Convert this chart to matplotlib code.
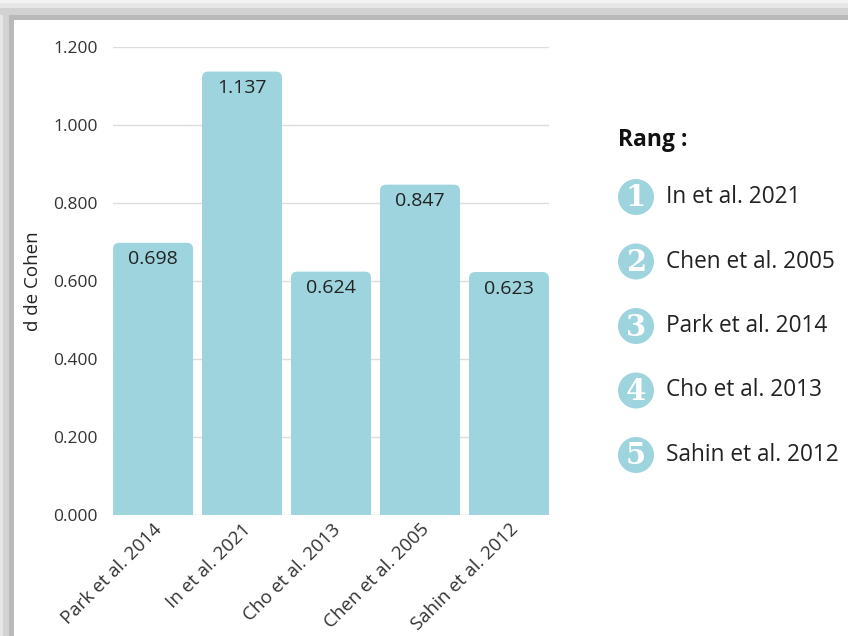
import matplotlib
matplotlib.use("Agg")
import matplotlib.pyplot as plt
from matplotlib.patches import FancyBboxPatch, Rectangle, Ellipse

# data
studies = ["Park et al. 2014", "In et al. 2021", "Cho et al. 2013",
           "Chen et al. 2005", "Sahin et al. 2012"]
cohen_d = [0.698, 1.137, 0.624, 0.847, 0.623]
rank_order = ["In et al. 2021", "Chen et al. 2005", "Park et al. 2014",
              "Cho et al. 2013", "Sahin et al. 2012"]
yticks = [0.0, 0.2, 0.4, 0.6, 0.8, 1.0, 1.2]

BAR = "#9dd4de"
TXT = "#222222"

plt.rcParams["font.family"] = ["Open Sans", "DejaVu Sans"]

W, H = 848, 636
fig = plt.figure(figsize=(W / 100, H / 100), dpi=100)
fig.patch.set_facecolor("white")

# window shadow along top and left edges
for (y0, y1, c) in [(0, 3, "#f2f2f2"), (3, 8, "#e6e6e6"), (8, 15, "#d2d2d2"), (15, 20, "#b9b9b9")]:
    fig.add_artist(Rectangle((0, 1 - y1 / H), 1, (y1 - y0) / H,
                             transform=fig.transFigure, color=c, lw=0, zorder=0))
for (x0, x1, c) in [(0, 3, "#e6e6e6"), (3, 9, "#d2d2d2"), (9, 14, "#b9b9b9")]:
    fig.add_artist(Rectangle((x0 / W, 0), (x1 - x0) / W, 1 - 15 / H,
                             transform=fig.transFigure, color=c, lw=0, zorder=0))

ax = fig.add_axes([113 / W, 1 - 515 / H, 436 / W, 468 / H])
ax.set_facecolor("none")
x = list(range(len(studies)))
width = 80 / 89
bars = ax.bar(x, cohen_d, width=width, color=BAR)

# swap plain bars for rounded-top ones
px_x = 89.0
px_y = 390.0
for b in bars:
    b.set_visible(False)
    bx, bw, bh = b.get_x(), b.get_width(), b.get_height()
    p = FancyBboxPatch((bx, -0.03), bw, bh + 0.03,
                       boxstyle="round,pad=0,rounding_size=0.07",
                       mutation_aspect=px_x / px_y,
                       fc=BAR, ec="none", zorder=2)
    ax.add_patch(p)

for xi, v in zip(x, cohen_d):
    ax.annotate(f"{v:.3f}", (xi, v), xytext=(0, -12), textcoords="offset points",
                ha="center", va="center", fontsize=14, color=TXT, zorder=3)

ax.set_xlim(-0.45, len(studies) - 0.55)
ax.set_ylim(0, 1.2)
ax.set_yticks(yticks)
ax.set_yticklabels([f"{t:.3f}" for t in yticks])
ax.yaxis.grid(True, color="#dddddd", lw=1)
ax.set_axisbelow(True)
for s in ax.spines.values():
    s.set_visible(False)
ax.tick_params(axis="y", length=0, pad=11, labelsize=12.5, labelcolor="#333333")
ax.tick_params(axis="x", length=0, pad=4, labelsize=13.5, labelcolor="#333333")
ax.set_xticks(x)
ax.set_xticklabels(studies, rotation=45, ha="right", rotation_mode="anchor")
ax.set_ylabel("d de Cohen", fontsize=13.5, color=TXT, labelpad=8)

# ranking legend
fig.text(618 / W, 1 - 140 / H, "Rang :", fontsize=16.5, fontweight="bold",
         color="#111111", va="center")
for i, name in enumerate(rank_order):
    yy = 1 - (197 + i * 64.5) / H
    fig.add_artist(Ellipse((636 / W, yy), 36 / W, 36 / H, transform=fig.transFigure,
                           color=BAR, lw=0))
    fig.text(636 / W, yy - 1 / H, str(i + 1), fontsize=21, fontweight="bold",
             family=["DejaVu Serif"], color="white", ha="center", va="center")
    fig.text(666 / W, yy, name, fontsize=16.3, color=TXT, va="center")

fig.savefig("out.png", dpi=100)
